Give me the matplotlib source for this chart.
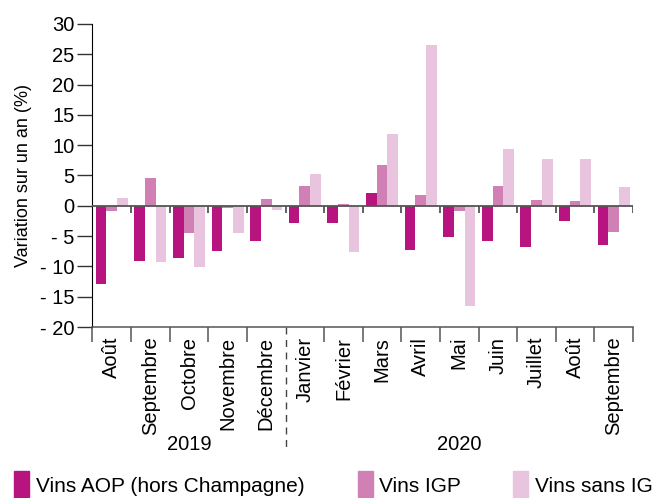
import matplotlib.pyplot as plt
import matplotlib.transforms as mtransforms
from matplotlib.patches import Rectangle
import numpy as np

plt.rcParams['font.family'] = ['Liberation Sans', 'DejaVu Sans']

months = ['Août', 'Septembre', 'Octobre', 'Novembre', 'Décembre',
          'Janvier', 'Février', 'Mars', 'Avril', 'Mai', 'Juin',
          'Juillet', 'Août', 'Septembre']
years = ['2019', '2020']
year_span = [(0, 4), (5, 13)]
aop = [-12.9, -9.15, -8.6, -7.45, -5.8, -2.85, -2.85, 2.1, -7.3, -5.15, -5.8, -6.8, -2.5, -6.5]
igp = [-0.9, 4.55, -4.5, -0.4, 1.15, 3.25, 0.3, 6.7, 1.75, -0.9, 3.25, 0.95, 0.75, -4.35]
sans_ig = [1.3, -9.25, -10.1, -4.5, -0.7, 5.3, -7.6, 11.8, 26.6, -16.5, 9.3, 7.7, 7.7, 3.1]
series_names = ['Vins AOP (hors Champagne)', 'Vins IGP', 'Vins sans IG']
colors = ['#B7147F', '#D080B4', '#E8C4DE']
yticks = [30, 25, 20, 15, 10, 5, 0, -5, -10, -15, -20]

W, H = 656, 498
fig = plt.figure(figsize=(W / 100, H / 100), dpi=100)
ax = fig.add_axes([92.5 / W, (H - 327) / H, (633 - 92.5) / W, (327 - 24) / H])

x = np.arange(len(months))
w = 0.277
for i, vals in enumerate([aop, igp, sans_ig]):
    ax.bar(x + (i - 1) * w, vals, width=w, color=colors[i], zorder=2)

ax.set_xlim(-0.5, len(months) - 0.5)
ax.set_ylim(-20, 30)

# zero line with small separators
ax.axhline(0, color='#555555', lw=1.3, zorder=3)
bounds = np.arange(0.5, len(months), 1.0)
ax.vlines(bounds, -1.15, 0, color='#555555', lw=1.3, zorder=3)

for s in ['top', 'right']:
    ax.spines[s].set_visible(False)
ax.spines['left'].set_color('black')
ax.spines['bottom'].set_color('#555555')
ax.spines['bottom'].set_linewidth(1.1)

ax.set_yticks(yticks)
ax.set_yticklabels([f'- {abs(v)}' if v < 0 else str(v) for v in yticks], fontsize=14.5)
ax.tick_params(axis='y', length=11, width=1, color='#333333', pad=2)
ax.set_ylabel('Variation sur un an (%)', fontsize=13, labelpad=6)

ax.set_xticks(x)
ax.set_xticklabels(months, rotation=90, fontsize=14.5, va='top', ha='center')
ax.tick_params(axis='x', which='major', length=0, pad=7)
minor = [b for b in np.arange(-0.5, len(months), 1.0) if b != 4.5]
ax.set_xticks(minor, minor=True)
ax.tick_params(axis='x', which='minor', length=11, width=1.1, color='#555555')

# dashed separator between years
trans = mtransforms.blended_transform_factory(ax.transData, ax.transAxes)
ax.plot([4.5, 4.5], [0, -0.396], transform=trans, clip_on=False,
        color='#444444', lw=1, dashes=(5, 4))
for name, (a, b) in zip(years, year_span):
    ax.text((a + b) / 2, -0.389, name, transform=trans, ha='center', va='center', fontsize=14.5)

# legend
legend_x = [(14, 36), (358, 379), (513, 535)]
for (px, tx), name, c in zip(legend_x, series_names, colors):
    fig.patches.append(Rectangle((px / W, 1 / H), 15 / W, 26 / H, transform=fig.transFigure,
                                 color=c, figure=fig))
    fig.text(tx / W, 6 / H, name, fontsize=15, va='baseline', ha='left')

fig.savefig('out.png', dpi=100)
